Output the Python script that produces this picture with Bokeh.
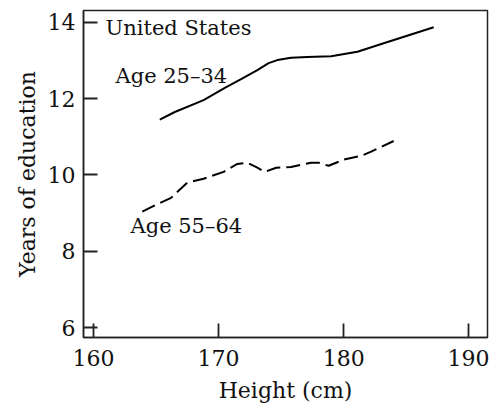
from bokeh.plotting import figure
from bokeh.models import Range1d, FixedTicker, Label, ColumnDataSource
from bokeh.embed import file_html
from bokeh.resources import INLINE

# Data
young_height = [165.3, 166.5, 168.8, 170.5, 171.8, 173.1, 174.0, 174.7, 175.8, 177.1, 179.0, 181.1, 183.2, 185.2, 187.2]
young_edu = [11.45, 11.65, 11.96, 12.28, 12.51, 12.75, 12.93, 13.01, 13.07, 13.09, 13.11, 13.23, 13.45, 13.66, 13.87]

old_height = [163.9, 165.0, 166.2, 167.5, 168.8, 170.4, 171.5, 172.3, 173.1, 173.7, 174.6, 175.8, 177.4, 178.0, 178.8, 180.0, 181.4, 182.2, 184.0]
old_edu = [9.04, 9.22, 9.40, 9.80, 9.90, 10.08, 10.29, 10.32, 10.19, 10.08, 10.19, 10.21, 10.32, 10.32, 10.24, 10.40, 10.50, 10.61, 10.89]

x_ticks = [160, 170, 180, 190]
y_ticks = [6, 8, 10, 12, 14]

FONT = "DejaVu Serif"

p = figure(width=489, height=405, output_backend="svg", toolbar_location=None,
           x_range=Range1d(159.2, 191.5), y_range=Range1d(5.74, 14.31),
           min_border_left=83, min_border_right=2, min_border_top=10, min_border_bottom=67)
p.background_fill_color = "white"
p.border_fill_color = "white"
p.grid.visible = False
p.outline_line_color = "#222222"
p.outline_line_width = 1.5

src_y = ColumnDataSource(dict(x=young_height, y=young_edu))
src_o = ColumnDataSource(dict(x=old_height, y=old_edu))
p.line("x", "y", source=src_y, line_color="black", line_width=2)
p.line("x", "y", source=src_o, line_color="black", line_width=2, line_dash="14 6")

for ax in (p.xaxis[0], p.yaxis[0]):
    ax.major_tick_in = 14
    ax.major_tick_out = 0
    ax.minor_tick_line_color = None
    ax.major_tick_line_width = 1.8
    ax.major_tick_line_color = "#222222"
    ax.axis_line_color = "#222222"
    ax.axis_line_width = 1.5
    ax.major_label_text_font = FONT
    ax.major_label_text_font_size = "22px"
    ax.major_label_text_color = "#111111"
    ax.axis_label_text_font = FONT
    ax.axis_label_text_font_size = "22px"
    ax.axis_label_text_font_style = "normal"
    ax.axis_label_text_color = "#111111"

p.xaxis.ticker = FixedTicker(ticks=x_ticks)
p.yaxis.ticker = FixedTicker(ticks=y_ticks)
p.xaxis.axis_label = "Height (cm)"
p.yaxis.axis_label = "Years of education"
p.xaxis.major_label_standoff = 12
p.yaxis.major_label_standoff = 8
p.xaxis.axis_label_standoff = 9
p.yaxis.axis_label_standoff = 5

for txt, x, y in [("United States", 160.96, 13.84), ("Age 25\u201334", 161.76, 12.59), ("Age 55\u201364", 162.96, 8.67)]:
    p.add_layout(Label(x=x, y=y, text=txt, text_font=FONT, text_font_size="21px",
                       text_baseline="middle", text_align="left", text_color="#111111"))

open("out.html", "w").write(file_html(p, INLINE))
